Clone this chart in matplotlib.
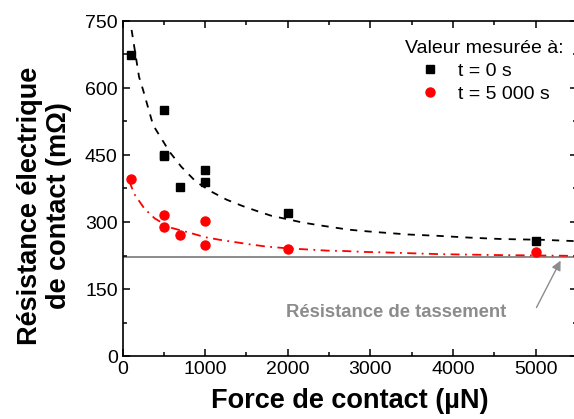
import matplotlib
matplotlib.use("Agg")
import matplotlib.pyplot as plt
from matplotlib.ticker import MultipleLocator

plt.rcParams['font.family'] = ['Liberation Sans', 'DejaVu Sans']

# Measured data
force_t0 = [100, 500, 500, 500, 700, 1000, 1000, 2000, 5000]
res_t0 = [674, 551, 450, 447, 379, 417, 390, 320, 258]
force_t5000 = [100, 500, 500, 700, 1000, 1000, 2000, 5000]
res_t5000 = [397, 316, 289, 270, 302, 248, 240, 233]

# Fitted curves
fit0_x = [110, 200, 250, 370, 460, 570, 710, 890, 1075, 1260, 1450, 1620, 1800,
          2000, 2175, 2370, 2550, 2730, 2900, 3100, 3460, 3820, 4200, 4570, 5100, 5500]
fit0_y = [730, 625, 595, 517, 490, 457, 424, 390, 368, 350, 336, 325, 314,
          306, 299, 293, 288, 283, 280, 277, 272, 269, 265, 262, 260, 257]
fit5_x = [80, 145, 265, 390, 570, 830, 1000, 1180, 1360, 1540, 1740, 2000, 2230,
          2470, 2690, 2930, 3160, 3840, 4520, 5330, 5500]
fit5_y = [392, 362, 330, 308, 288, 275, 266, 260, 255, 250, 245, 241, 238.6,
          236, 235, 233, 232, 228, 226, 224.5, 224]

settling = 222

fig = plt.figure(figsize=(5.74, 4.19), dpi=100)
ax = fig.add_axes([122.5/574, 1-356/419, (577-122.5)/574, (356-21)/419])

ax.axhline(settling, color='#8c8c8c', lw=1.4, zorder=1)
ax.plot(fit0_x, fit0_y, color='black', lw=1.3, ls=(0, (4, 4)), zorder=2)
ax.plot(fit5_x, fit5_y, color='red', lw=1.3, ls=(0, (5, 3, 1, 3)), zorder=2)
ax.plot(force_t0, res_t0, 's', color='black', ms=5.5, ls='none', label='t = 0 s', zorder=3)
ax.plot(force_t5000, res_t5000, 'o', color='red', ms=6.5, ls='none', label='t = 5 000 s', zorder=3)

ax.set_xlim(0, 5500)
ax.set_ylim(0, 750)
ax.xaxis.set_major_locator(MultipleLocator(1000))
ax.xaxis.set_minor_locator(MultipleLocator(500))
ax.yaxis.set_major_locator(MultipleLocator(150))
ax.yaxis.set_minor_locator(MultipleLocator(75))
ax.tick_params(which='both', direction='in', top=True, right=True, labelsize=14, width=1.1)
ax.tick_params(which='major', length=5)
ax.tick_params(which='minor', length=3)
for s in ax.spines.values():
    s.set_linewidth(1.2)

ax.set_xlabel('Force de contact (µN)', fontsize=19.5, fontweight='bold')
ax.set_ylabel('Résistance électrique\nde contact (mΩ)', fontsize=19.5, fontweight='bold',
              linespacing=1.15)
ax.xaxis.set_label_coords(0.5, -0.095)
ax.yaxis.set_label_coords(-0.112, 0.448)

ax.annotate('', xy=(5317, 219), xytext=(4994, 103),
            arrowprops=dict(arrowstyle='-|>', color='#8c8c8c', lw=1.0, mutation_scale=14))
ax.text(3310, 98, 'Résistance de tassement', color='#8c8c8c', fontsize=13.3,
        fontweight='bold', ha='center', va='center')

leg = ax.legend(title='Valeur mesurée à:', loc='upper right', bbox_to_anchor=(0.9714, 0.942),
                frameon=False, fontsize=14, title_fontsize=14, handlelength=1.0,
                handletextpad=0.94, labelspacing=0.27, borderaxespad=0, borderpad=0)

fig.savefig('out.png', dpi=100)
